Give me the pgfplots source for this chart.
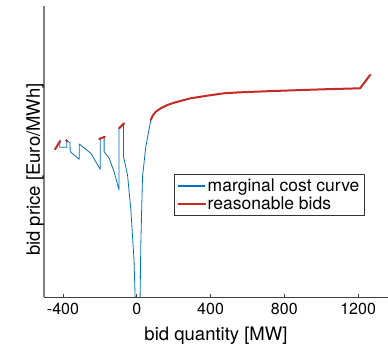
\documentclass[border=0pt]{standalone}
\usepackage{pgfplots}
\pgfplotsset{compat=1.18}
\usepackage{fontspec}
\setmainfont{TeX Gyre Heros}
\definecolor{mblue}{RGB}{0,114,189}
\definecolor{mred}{RGB}{198,42,38}
\begin{document}
\begin{tikzpicture}
\begin{axis}[
  scale only axis, width=344pt, height=291pt,
  xmin=-503, xmax=1362, ymin=0, ymax=291,
  axis lines*=left,
  x axis line style={black!75, line width=0.7pt},
  y axis line style={black!50, line width=1.6pt},
  xtick={-400,0,400,800,1200},
  xticklabels={-400,\raisebox{-4.5pt}{0},400,800,1200},
  ytick=\empty,
  tick align=inside, major tick length=3pt,
  tick style={black!75, line width=0.6pt},
  /pgf/number format/assume math mode=true,
  xticklabel style={font=\fontsize{16}{18}\selectfont, inner sep=0pt, anchor=north, yshift=-6pt},
  xlabel={bid quantity [MW]},
  ylabel={bid price [Euro/MWh]},
  xlabel style={font=\fontsize{18.5}{21}\selectfont, at={(axis description cs:0.5,0)}, anchor=north, inner sep=0pt, yshift=-30pt},
  ylabel style={font=\fontsize{18.5}{21}\selectfont, at={(axis description cs:0,0.5)}, anchor=south, inner sep=0pt, xshift=-18pt},
  legend style={at={(0.378,0.423)}, anchor=north west, draw=black!80, line width=0.6pt, fill=white,
    font=\fontsize{17.5}{19}\selectfont, inner xsep=3pt, inner ysep=3.5pt, cells={anchor=west},
    nodes={inner sep=1.5pt}},
  legend image code/.code={\draw[#1, line width=1.9pt] (0pt,0pt) -- (27pt,0pt);},
  clip=true,
]
\coordinate (bl) at (rel axis cs:0,0);
\coordinate (tr) at (rel axis cs:1,1);
\addplot[mblue, line width=0.8pt, line join=round] coordinates {
(-416,156) (-418,149.7) (-380,149.7) (-380,156.3) (-362,154.3) (-361,145.3)
(-312,137.7) (-312,153) (-249,143.7) (-198,127.7) (-198,158.7) (-177,159.7)
(-177,145.3) (-150,138.7) (-123,125.3) (-96,107) (-96,168.7) (-72,173)
(-72,140.3) (-50,122) (-32,87) (-15,37) (-9,0) (-5,-60) (15,-60) (18,0)
(22,53.7) (31,120.3) (49,150.3) (76,177)
};
\addlegendentry{marginal cost curve}
\addplot[mred, line width=2pt, line cap=round, line join=round] coordinates {
(76,177) (85,181) (103,185.3) (130,188.7) (166,192) (202,194.3) (292,198.7)
(382,201.3) (472,203.7) (562,204.7) (742,206) (1012,207.7) (1211,208.7) (1265,222)
};
\addlegendentry{reasonable bids}
\addplot[mred, line width=2pt, line cap=round, forget plot] coordinates {(-443,147.7) (-416,156)};
\addplot[mred, line width=2pt, line cap=round, forget plot] coordinates {(-204,158) (-173,160.3)};
\addplot[mred, line width=2pt, line cap=round, forget plot] coordinates {(-96,168.7) (-69,173.7)};
\addplot[mred, only marks, mark=*, mark size=1.2pt, forget plot] coordinates {(-380,156.3)};
\end{axis}
\pgfresetboundingbox
\path[use as bounding box] ([shift={(-44pt,-47pt)}]bl) rectangle ([shift={(0pt,6pt)}]tr);
\end{tikzpicture}
\end{document}
